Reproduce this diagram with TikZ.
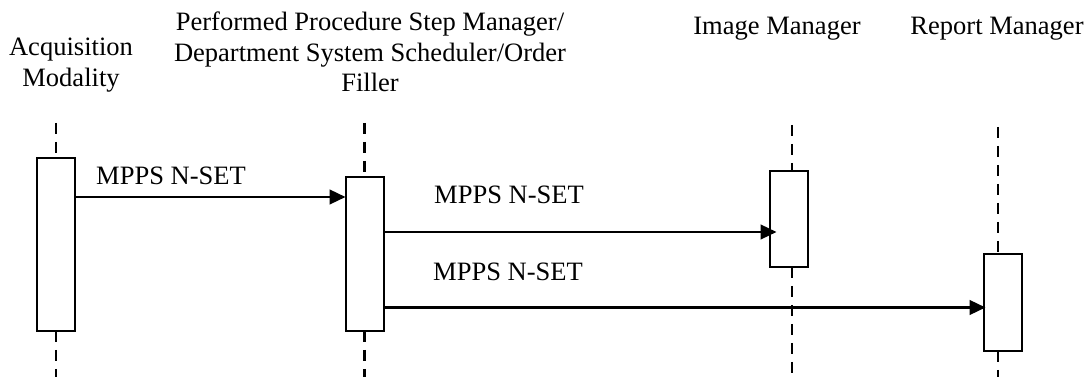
\documentclass[tikz,border=0pt]{standalone}
\usepackage{fontspec}
\setmainfont{Liberation Serif}
\usetikzlibrary{arrows.meta}
\begin{document}
\begin{tikzpicture}[x=0.75pt,y=-0.75pt,
  every node/.style={font=\fontsize{19.9}{23}\selectfont},
  actbox/.style={draw,fill=white,line width=1.5pt,inner sep=0pt,outer sep=0pt,minimum width=28.5pt},
  life/.style={line width=2pt,dash pattern=on 8.25pt off 6pt},
  msg/.style={line width=1.8pt,-{Triangle[length=12pt,width=11pt]}},
  hdr/.style={align=center,inner sep=0pt},
  lbl/.style={inner sep=0pt}]
\useasboundingbox (0,0) rectangle (1089,377);
% lifeline coordinates
\coordinate (t1) at (56,123);
\coordinate (t2) at (364.5,123);
\coordinate (t3) at (792,125);
\coordinate (t4) at (998,127);
\coordinate (e1) at (56,377);
\coordinate (e2) at (364.5,377);
\coordinate (e3) at (792,377);
\coordinate (e4) at (998,377);
% activation boxes
\node[actbox,minimum height=129.75pt] (b1) at (56,244.5) {};
\node[actbox,minimum height=115.5pt] (b2) at (364.5,254) {};
\node[actbox,minimum height=72pt] (b3) at (788.5,219) {};
\node[actbox,minimum height=72.75pt] (b4) at (1002.5,302.5) {};
% lifelines
\draw[life] (t1) -- (b1.north);
\draw[life] (b1.south) -- (e1);
\draw[life] (t2) -- (b2.north);
\draw[life] (b2.south) -- (e2);
\draw[life] (t3) -- (t3 |- b3.north);
\draw[life] (t3 |- b3.south) -- (e3);
\draw[life] (t4) -- (t4 |- b4.north);
\draw[life] (t4 |- b4.south) -- (e4);
% headers
\node[hdr] (h1) at (71,65) {Acquisition\\Modality};
\node[hdr] (h2) at (370,52) {Performed Procedure Step Manager/\\Department System Scheduler/Order\\Filler};
\node[hdr] (h3) at (777,29) {Image Manager};
\node[hdr] (h4) at (997,29) {Report Manager};
% messages
\coordinate (m1) at (0,197);
\coordinate (m2) at (0,232);
\coordinate (m3) at (0,307.5);
\draw[msg] (b1.east |- m1) -- (b2.west |- m1);
\draw[msg] (b2.east |- m2) -- ([xshift=5.25pt]b3.west |- m2);
\draw[msg] (b2.east |- m3) -- ([xshift=1.5pt]b4.west |- m3);
\node[lbl] (l1) at (171,176) {MPPS N-SET};
\node[lbl] (l2) at (509,195) {MPPS N-SET};
\node[lbl] (l3) at (508,272) {MPPS N-SET};
\end{tikzpicture}
\end{document}
